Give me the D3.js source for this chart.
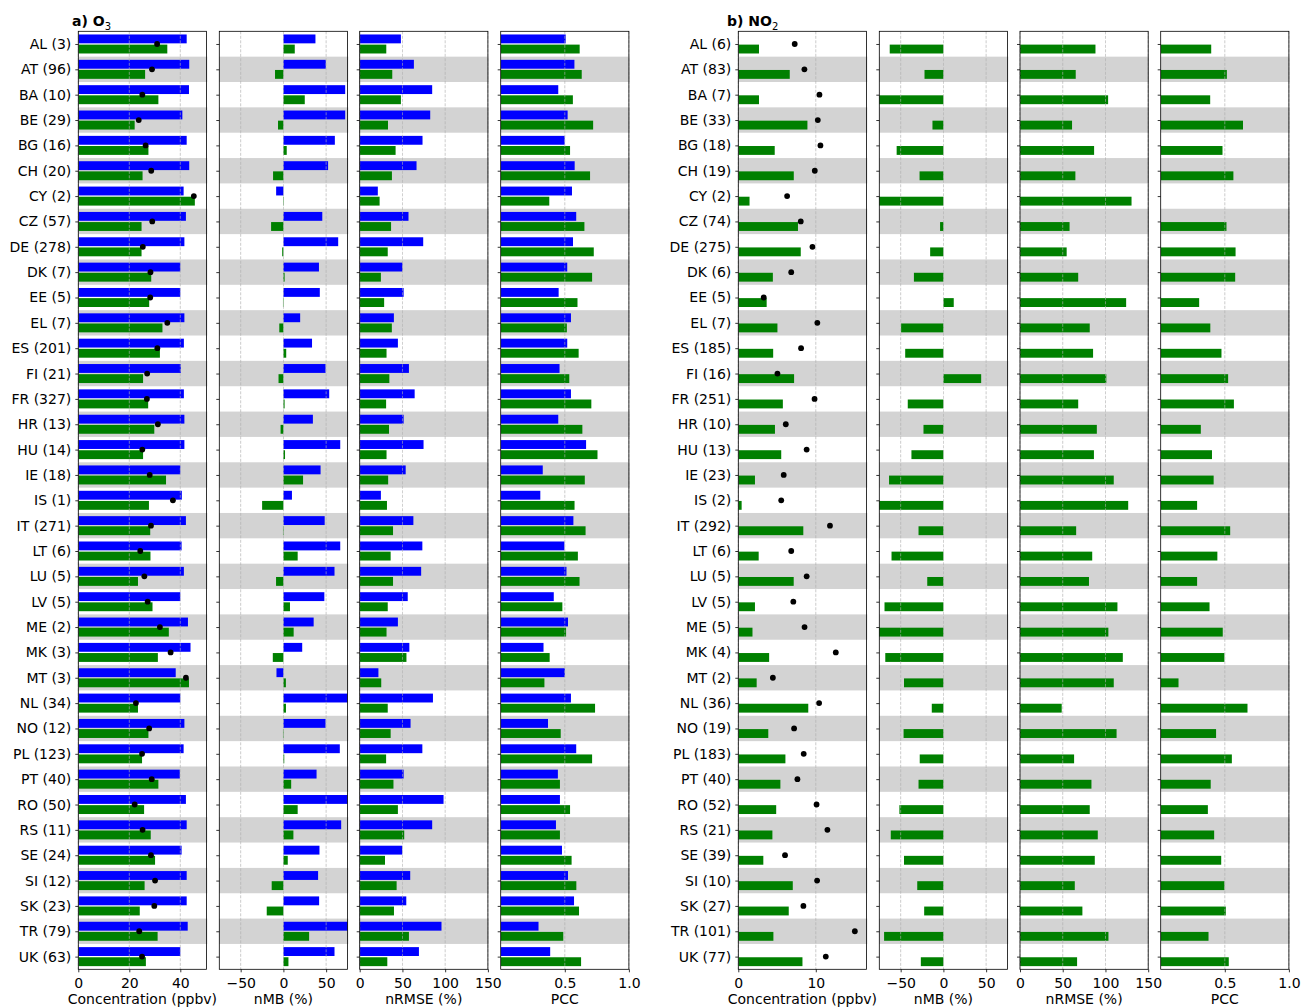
<!DOCTYPE html>
<html>
<head>
<meta charset="utf-8">
<script src="https://cdn.jsdelivr.net/npm/d3@7"></script>
<style>
  html, body { margin: 0; padding: 0; background: #fff; }
  svg text { font-family: "DejaVu Sans", sans-serif; }
</style>
</head>
<body>
<svg id="chart" width="1302" height="1007"></svg>
<script>
// Country codes (rows, top to bottom)
const countries = ["AL","AT","BA","BE","BG","CH","CY","CZ","DE","DK","EE","EL","ES","FI","FR","HR","HU","IE","IS","IT","LT","LU","LV","ME","MK","MT","NL","NO","PL","PT","RO","RS","SE","SI","SK","TR","UK"];

// Number of stations per country
const o3Stations  = [3,96,10,29,16,20,2,57,278,7,5,7,201,21,327,13,14,18,1,271,6,5,5,2,3,3,34,12,123,40,50,11,24,12,23,79,63];
const no2Stations = [6,83,7,33,18,19,2,74,275,6,5,7,185,16,251,10,13,23,2,292,6,5,5,5,4,2,36,19,183,40,52,21,39,10,27,101,77];

// O3: observed mean (ppbv)
const o3Obs = [30.9,28.9,25.1,23.7,26.4,28.6,45.3,29.0,25.3,28.3,28.2,34.9,31.0,27.0,26.9,31.2,25.1,28.0,37.1,28.5,24.3,25.9,27.2,32.0,36.2,42.2,22.6,27.8,25.0,28.8,22.1,25.2,28.5,30.1,29.8,23.9,25.0];
// O3: model A (blue) and model B (green) mean concentration (ppbv)
const o3ConcA = [42.5,43.5,43.4,40.8,42.5,43.5,41.3,42.2,41.6,40.0,40.0,41.6,41.4,40.2,41.4,41.6,41.6,40.0,40.6,42.2,40.5,41.4,40.0,43.0,44.0,38.2,40.0,41.6,41.3,39.8,42.2,42.5,40.5,42.5,42.5,42.9,40.0];
const o3ConcB = [34.9,26.2,31.4,22.1,27.5,25.2,45.7,24.8,24.8,28.6,27.8,33.0,32.0,25.4,27.4,29.8,25.4,34.4,27.7,28.2,28.3,23.4,29.1,35.5,31.2,43.4,23.4,27.5,25.0,31.4,25.8,28.4,30.1,26.0,24.1,31.1,26.5];
// O3: normalised mean bias (%)
const o3NmbA = [37.5,49.6,72.3,72.3,60.2,52.3,-8.5,45.5,64.1,41.6,42.6,19.6,33.5,49.3,53.6,34.5,66.5,43.5,10.0,48.3,66.5,59.8,47.9,35.4,22.0,-8.1,77.0,49.3,66.0,38.8,91.0,67.6,42.2,40.6,41.8,79.5,59.8];
const o3NmbB = [13.3,-9.8,25.0,-6.3,3.9,-12.1,0.5,-14.4,-1.4,1.4,-0.5,-4.8,3.3,-5.7,1.4,-3.3,1.9,23.0,-24.9,-0.5,16.7,-8.6,7.7,12.0,-12.4,2.9,3.0,-0.5,1.0,9.1,16.7,11.7,5.1,-13.7,-19.5,30.1,5.9];
// O3: normalised RMSE (%)
const o3RmseA = [48.2,63.4,84.8,82.5,73.5,66.5,21.2,57.1,74.3,50.0,51.4,40.0,44.7,57.6,64.3,51.4,74.7,53.8,24.8,62.8,73.3,71.9,56.2,44.7,58.1,21.9,85.7,59.5,73.3,51.4,98.1,84.8,49.8,59.1,54.5,95.7,69.3];
const o3RmseB = [31.1,38.1,48.2,33.1,42.0,37.7,23.3,36.7,32.8,24.8,28.6,37.6,31.4,34.7,30.9,34.3,31.4,33.3,31.9,39.0,36.2,39.0,32.8,31.4,54.7,25.2,32.8,36.2,30.9,39.5,44.7,52.1,29.6,43.2,40.1,57.6,32.3];
// O3: Pearson correlation coefficient
const o3PccA = [0.507,0.575,0.449,0.522,0.499,0.577,0.556,0.589,0.564,0.519,0.452,0.548,0.519,0.459,0.548,0.449,0.666,0.328,0.309,0.567,0.497,0.513,0.414,0.525,0.334,0.500,0.548,0.369,0.589,0.446,0.462,0.431,0.478,0.525,0.572,0.295,0.386];
const o3PccB = [0.616,0.632,0.563,0.721,0.541,0.697,0.379,0.653,0.726,0.713,0.599,0.516,0.608,0.535,0.707,0.637,0.755,0.656,0.576,0.662,0.602,0.615,0.481,0.510,0.382,0.341,0.736,0.468,0.713,0.462,0.541,0.462,0.553,0.590,0.611,0.488,0.627];

// NO2: observed mean (ppbv) and model B (green) statistics
const no2Obs  = [7.28,8.53,10.47,10.26,10.6,9.87,6.3,8.06,9.57,6.83,3.28,10.2,8.1,5.05,9.84,6.13,8.82,5.86,5.54,11.83,6.83,8.82,7.1,8.55,12.58,4.46,10.43,7.2,8.44,7.63,10.1,11.5,6.03,10.17,8.4,15.04,11.29];
const no2Conc = [2.67,6.64,2.67,8.92,4.7,7.16,1.45,7.7,8.06,4.46,3.66,5.05,4.5,7.2,5.75,4.73,5.54,2.15,0.43,8.39,2.63,7.15,2.15,1.83,3.98,2.37,9.03,3.87,6.08,5.43,4.89,4.4,3.23,7.03,6.51,4.53,8.28];
const no2Nmb  = [-62.8,-22.1,-75.5,-12.8,-54.7,-27.9,-77.0,-3.9,-15.5,-34.5,12.1,-49.5,-44.7,44.2,-41.7,-23.3,-37.4,-63.6,-92.0,-29.1,-60.7,-18.9,-68.9,-78.6,-68.0,-46.1,-13.6,-46.6,-27.7,-29.1,-51.5,-61.6,-46.1,-30.6,-22.5,-69.4,-26.4];
const no2Rmse = [88.3,65.2,103.1,60.9,86.7,64.8,130.5,58.0,54.6,68.1,124.2,81.6,85.5,101.0,68.1,89.9,86.5,109.7,126.6,65.7,84.5,80.7,114.0,103.4,120.3,109.7,48.8,113.0,63.3,83.6,81.6,91.0,87.5,64.1,73.0,103.5,66.8];
const no2Pcc  = [0.394,0.516,0.386,0.642,0.482,0.567,null,0.513,0.584,0.581,0.300,0.387,0.474,0.526,0.571,0.313,0.400,0.413,0.284,0.542,0.442,0.284,0.381,0.484,0.497,0.139,0.677,0.432,0.555,0.39,0.368,0.417,0.472,0.497,0.508,0.373,0.531];

// Axis ticks
const concTicksO3  = [0, 20, 40];
const concTicksNO2 = [0, 10];
const nmbTicks  = [-50, 0, 50];
const rmseTicks = [0, 50, 100, 150];
const pccTicks  = [0.5, 1.0];

const BLUE = "#0000ff", GREEN = "#008000";
const FS = 14;
const svg = d3.select("#chart");

const TOP = 31.3, BOTTOM = 969.3, PW = 128.2;
const y = d3.scaleLinear().domain([-0.5, countries.length - 0.5]).range([TOP, BOTTOM]);
const barH = y(0.35) - y(0);

let clipId = 0;
function panel(opt) {
  const x = d3.scaleLinear().domain(opt.domain).range([opt.left, opt.left + PW]);
  const g = svg.append("g");
  const id = "clip" + (clipId++);
  g.append("clipPath").attr("id", id).append("rect")
    .attr("x", opt.left).attr("y", TOP).attr("width", PW).attr("height", BOTTOM - TOP);

  // alternating row shading
  g.append("g").selectAll("rect")
    .data(countries.map((c, i) => i).filter(i => i % 2 === 1))
    .join("rect")
    .attr("x", opt.left).attr("width", PW + 0.8)
    .attr("y", i => y(i - 0.5)).attr("height", i => y(i + 0.5) - y(i - 0.5))
    .attr("fill", "#d3d3d3");

  // bars
  const bars = g.append("g").attr("clip-path", `url(#${id})`);
  opt.series.forEach(s => {
    bars.append("g").selectAll("rect")
      .data(s.values.map((v, i) => ({ v, i })).filter(d => d.v !== null))
      .join("rect")
      .attr("x", d => x(Math.min(0, d.v)))
      .attr("width", d => Math.abs(x(d.v) - x(0)))
      .attr("y", d => y(d.i + s.offset - 0.175))
      .attr("height", barH)
      .attr("fill", s.color);
  });

  // dashed vertical grid
  g.append("g").selectAll("line")
    .data(opt.ticks)
    .join("line")
    .attr("x1", d => x(d)).attr("x2", d => x(d))
    .attr("y1", TOP).attr("y2", BOTTOM)
    .attr("stroke", "#b0b0b0").attr("stroke-width", 0.8)
    .attr("stroke-dasharray", "3,1.5").attr("opacity", 0.8);

  // observed means
  if (opt.dots) {
    g.append("g").attr("clip-path", `url(#${id})`).selectAll("circle")
      .data(opt.dots.map((v, i) => ({ v, i })))
      .join("circle")
      .attr("cx", d => x(d.v)).attr("cy", d => y(d.i))
      .attr("r", 2.9).attr("fill", "#000");
  }

  // x axis
  const xa = g.append("g").attr("transform", `translate(0,${BOTTOM})`)
    .call(d3.axisBottom(x).tickValues(opt.ticks).tickFormat(opt.fmt)
      .tickSize(3).tickPadding(5.5).tickSizeOuter(0));
  xa.select(".domain").remove();
  xa.selectAll("text").attr("font-size", FS).attr("fill", "#000")
    .attr("font-family", "DejaVu Sans, sans-serif");
  xa.selectAll("line").attr("stroke", "#000").attr("stroke-width", 0.8);

  g.append("text")
    .attr("x", opt.left + PW / 2).attr("y", 1003.5)
    .attr("text-anchor", "middle").attr("font-size", FS)
    .text(opt.label);

  // y axis ticks (labels on the first panel only)
  const ya = g.append("g").attr("transform", `translate(${opt.left},0)`)
    .call(d3.axisLeft(y).tickValues(d3.range(countries.length))
      .tickFormat(i => opt.yLabels ? opt.yLabels[i] : "")
      .tickSize(3).tickPadding(4).tickSizeOuter(0));
  ya.select(".domain").remove();
  ya.selectAll("text").attr("font-size", FS).attr("fill", "#000")
    .attr("font-family", "DejaVu Sans, sans-serif");
  ya.selectAll("line").attr("stroke", "#000").attr("stroke-width", 0.8);

  // frame
  g.append("rect")
    .attr("x", opt.left).attr("y", TOP).attr("width", PW).attr("height", BOTTOM - TOP)
    .attr("fill", "none").attr("stroke", "#000").attr("stroke-width", 0.8);
}

const fmtInt = d3.format("d");
const fmtPcc = d3.format(".1f");
const fmtMinus = d => (d < 0 ? "\u2212" + Math.abs(d) : String(d));

const o3Labels  = countries.map((c, i) => `${c} (${o3Stations[i]})`);
const no2Labels = countries.map((c, i) => `${c} (${no2Stations[i]})`);

// ---- a) O3 ----
const o3Max = d3.max([...o3Obs, ...o3ConcA, ...o3ConcB]);
const o3Lefts = [78.3, 219.3, 359.7, 500.7];
panel({ left: o3Lefts[0], domain: [0, o3Max * 1.1], ticks: concTicksO3, fmt: fmtInt,
  series: [{ values: o3ConcA, offset: -0.2, color: BLUE }, { values: o3ConcB, offset: 0.2, color: GREEN }],
  dots: o3Obs, label: "Concentration (ppbv)", yLabels: o3Labels });
panel({ left: o3Lefts[1], domain: [-75, 75], ticks: nmbTicks, fmt: fmtMinus,
  series: [{ values: o3NmbA, offset: -0.2, color: BLUE }, { values: o3NmbB, offset: 0.2, color: GREEN }],
  label: "nMB (%)" });
panel({ left: o3Lefts[2], domain: [0, 150], ticks: rmseTicks, fmt: fmtInt,
  series: [{ values: o3RmseA, offset: -0.2, color: BLUE }, { values: o3RmseB, offset: 0.2, color: GREEN }],
  label: "nRMSE (%)" });
panel({ left: o3Lefts[3], domain: [0, 1], ticks: pccTicks, fmt: fmtPcc,
  series: [{ values: o3PccA, offset: -0.2, color: BLUE }, { values: o3PccB, offset: 0.2, color: GREEN }],
  label: "PCC" });

// ---- b) NO2 ----
const no2Max = d3.max([...no2Obs, ...no2Conc]);
const no2Lefts = [738.3, 879.3, 1020.0, 1160.7];
panel({ left: no2Lefts[0], domain: [0, no2Max * 1.1], ticks: concTicksNO2, fmt: fmtInt,
  series: [{ values: no2Conc, offset: 0.2, color: GREEN }],
  dots: no2Obs, label: "Concentration (ppbv)", yLabels: no2Labels });
panel({ left: no2Lefts[1], domain: [-75, 75], ticks: nmbTicks, fmt: fmtMinus,
  series: [{ values: no2Nmb, offset: 0.2, color: GREEN }], label: "nMB (%)" });
panel({ left: no2Lefts[2], domain: [0, 150], ticks: rmseTicks, fmt: fmtInt,
  series: [{ values: no2Rmse, offset: 0.2, color: GREEN }], label: "nRMSE (%)" });
panel({ left: no2Lefts[3], domain: [0, 1], ticks: pccTicks, fmt: fmtPcc,
  series: [{ values: no2Pcc, offset: 0.2, color: GREEN }], label: "PCC" });

// panel titles
function title(x, main, sub) {
  const t = svg.append("text").attr("x", x).attr("y", 26)
    .attr("font-size", FS).attr("font-weight", "bold");
  t.append("tspan").text(main);
  t.append("tspan").attr("font-size", 10).attr("font-weight", "normal").attr("dy", 3.5).text(sub);
}
title(72, "a) O", "3");
title(727, "b) NO", "2");
</script>
</body>
</html>
